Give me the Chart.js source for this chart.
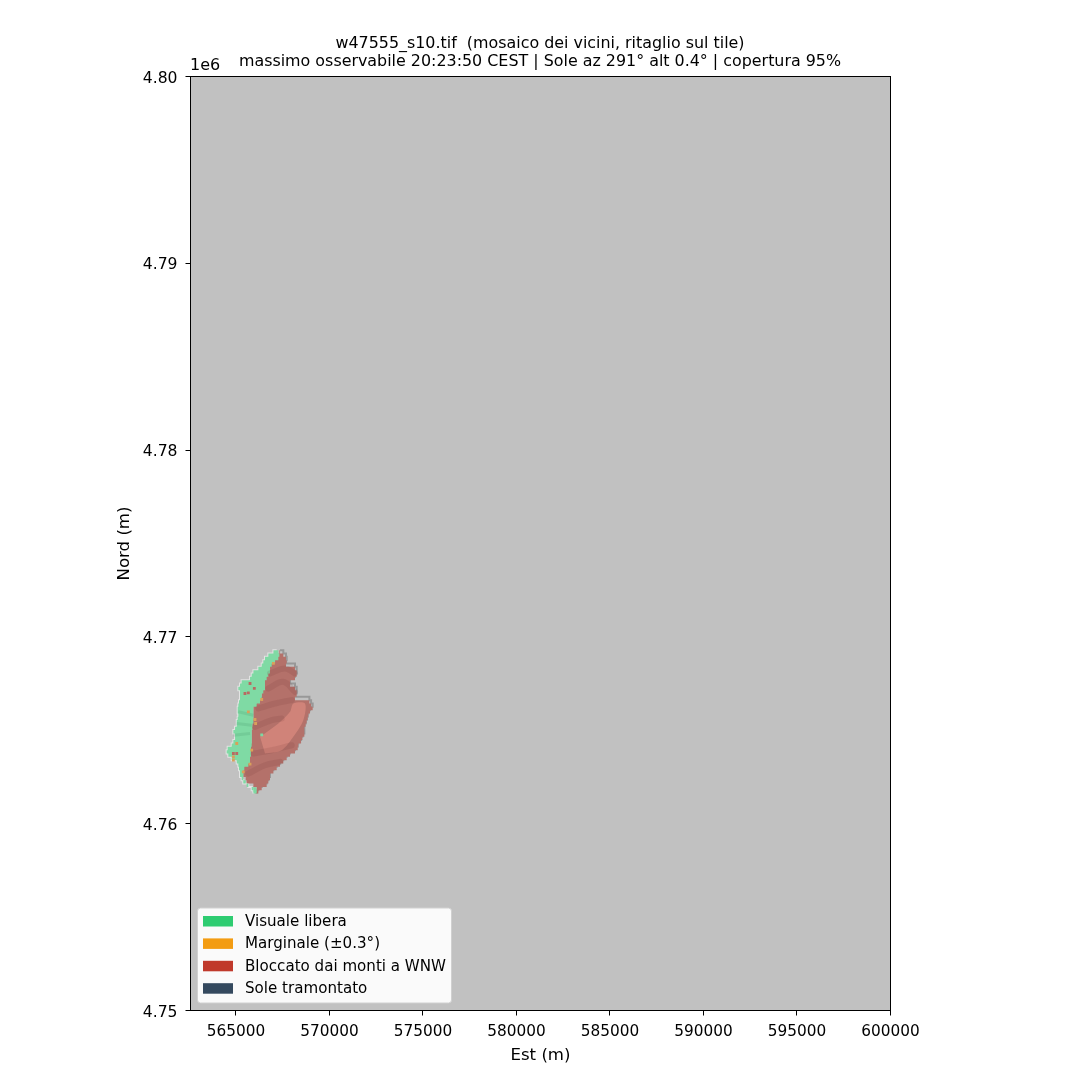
<!DOCTYPE html>
<html>
<head>
<meta charset="utf-8">
<title>w47555_s10</title>
<script src="https://cdn.jsdelivr.net/npm/chart.js@4/dist/chart.umd.min.js"></script>
<style>
  body { margin: 0; background: #fff; }
  canvas { display: block; }
</style>
</head>
<body>
<canvas id="chart" width="1080" height="1080"></canvas>
<script>
const titleLines = ["w47555_s10.tif  (mosaico dei vicini, ritaglio sul tile)",
  "massimo osservabile 20:23:50 CEST | Sole az 291° alt 0.4° | copertura 95%"];
const estTicks = [565000, 570000, 575000, 580000, 585000, 590000, 595000, 600000];
const nordTicks = [4750000, 4760000, 4770000, 4780000, 4790000, 4800000];
const legendLabels = ["Visuale libera", "Marginale (±0.3°)", "Bloccato dai monti a WNW", "Sole tramontato"];
const legendColors = ["#2ecc71", "#f39c12", "#c0392b", "#34495e"];

// one entry per raster row, north to south
const rowNord = [4769290, 4769115, 4768935, 4768755, 4768580, 4768400, 4768220, 4768045, 4767865, 4767685, 4767510,
  4767330, 4767150, 4766970, 4766795, 4766615, 4766435, 4766260, 4766080, 4765900, 4765720, 4765545, 4765365, 4765185,
  4765010, 4764830, 4764650, 4764475, 4764295, 4764115, 4763935, 4763755, 4763580, 4763400, 4763220, 4763045, 4762865,
  4762685, 4762505, 4762330, 4762150, 4761970, 4761790, 4761615];
const westEdge = [567175, 567000, 566730, 566550, 566460, 566375, 566195, 565930, 565840, 565750, 565300,
  565215, 565125, 565215, 565215, 565215, 565160, 565125, 565090, 565090, 565125, 565090, 565040, 565040,
  564950, 564860, 564950, 564950, 564860, 564770, 564555, 564500, 564590, 564770, 565040, 565125, 565160,
  565215, 565215, 565300, 565390, 565660, 565840, 565930];
const splitEdge = [567265, 567320, 567265, 567090, 566910, 566820, 566820, 566730, 566640, 566550, 566550,
  566550, 566460, 566375, 566375, 566285, 566105, 565930, 565930, 565930, 565930, 565930, 565875, 565875,
  565840, 565840, 565840, 565840, 565840, 565800, 565800, 565800, 565750, 565750, 565660, 565445, 565390,
  565390, 565390, 565520, 565570, 565930, 566105, 566050];
const eastEdge = [567355, 567530, 567675, 567710, 567675, 568155, 568245, 568245, 568155, 567890, 567890,
  568155, 568245, 568245, 568155, 568925, 569015, 569100, 568960, 568870, 568835, 568780, 568725, 568655,
  568655, 568655, 568550, 568480, 568335, 568300, 568155, 567890, 567710, 567530, 567355, 567175, 567000,
  566820, 566820, 566730, 566640, 566375, 566195, 566105];

// hillshade seen through the overlay
const lightEst = [566285, 567265, 567890, 568065, 568690, 568600, 568065, 567445, 566550];
const lightNord = [4764650, 4765365, 4765990, 4766435, 4766435, 4765540, 4764650, 4763935, 4763755];
const ridgesEst = [[566820, 567620, 568155], [566730, 567530, 568155], [566195, 567090, 567980],
  [566015, 566910, 567445], [565930, 566910, 567980], [565660, 566550, 567355]];
const ridgesNord = [[4768043, 4768310, 4768043], [4767240, 4767600, 4767060], [4766168, 4766435, 4766615],
  [4765185, 4765540, 4765630], [4763755, 4763935, 4764200], [4762685, 4763130, 4763310]];
const greenBandsEst = [[564860, 565750], [565125, 565930], [565040, 565840]];
const greenBandsNord = [[4764740, 4764830], [4765990, 4765810], [4765365, 4765275]];

// isolated cells
const marginalEst = [567000, 566375, 566015, 566050, 565840, 565750, 564860, 564860, 565390, 565660, 565040];
const marginalNord = [4768579, 4766650, 4765578, 4765365, 4763935, 4763185, 4763578, 4763400, 4762775, 4765990, 4764292];
const blockedEst = [565750, 565980, 565660, 565480, 564860, 565040];
const blockedNord = [4767507, 4767240, 4767007, 4766971, 4763757, 4763757];
const freeEst = [566375, 566015, 566015];
const freeNord = [4764757, 4761880, 4761790];

function pts(xs, ys) {
  return xs.map((x, i) => ({ x: x, y: ys[i] }));
}

const greenShape = pts(westEdge.concat(splitEdge.slice().reverse()), rowNord.concat(rowNord.slice().reverse()));
const redShape = pts(splitEdge.concat(eastEdge.slice().reverse()), rowNord.concat(rowNord.slice().reverse()));

const paintOrder = [];
paintOrder.push({ data: pts(eastEdge, rowNord), stepped: true, borderColor: "rgba(90,90,90,0.4)", borderWidth: 2 });
paintOrder.push({ data: pts(westEdge, rowNord), stepped: true, borderColor: "rgba(255,255,255,0.55)", borderWidth: 2 });
paintOrder.push({ data: redShape, stepped: true, fill: "shape", backgroundColor: "#b4716a", borderColor: "#b4716a", borderWidth: 0 });
paintOrder.push({ data: greenShape, stepped: true, fill: "shape", backgroundColor: "#7fdaa4", borderColor: "#7fdaa4", borderWidth: 0 });
paintOrder.push({ data: pts(lightEst, lightNord), tension: 0.3, fill: "shape", backgroundColor: "rgba(235,150,135,0.5)", borderWidth: 0 });
ridgesEst.forEach((xs, i) => {
  paintOrder.push({ data: pts(xs, ridgesNord[i]), tension: 0.4, borderColor: "rgba(110,45,45,0.13)", borderWidth: 6, borderCapStyle: "round" });
});
greenBandsEst.forEach((xs, i) => {
  paintOrder.push({ data: pts(xs, greenBandsNord[i]), borderColor: "rgba(70,150,105,0.2)", borderWidth: 3 });
});
[[marginalEst, marginalNord, "#d9a05a"], [blockedEst, blockedNord, "#b86a62"], [freeEst, freeNord, "#7dd8a2"]].forEach(c => {
  paintOrder.push({ data: pts(c[0], c[1]), showLine: false, pointRadius: 2, pointStyle: "rect", pointBackgroundColor: c[2], pointBorderWidth: 0 });
});

const frame = {
  id: "frame",
  beforeDatasetsDraw(chart) {
    const a = chart.chartArea, ctx = chart.ctx;
    ctx.save();
    ctx.fillStyle = "#c1c1c1";
    ctx.fillRect(a.left, a.top, a.right - a.left, a.bottom - a.top);
    ctx.restore();
  },
  afterDraw(chart) {
    const a = chart.chartArea, ctx = chart.ctx;
    ctx.save();
    ctx.strokeStyle = "#000";
    ctx.lineWidth = 1;
    ctx.strokeRect(a.left, a.top, a.right - a.left, a.bottom - a.top);

    // titles and the axis offset
    ctx.fillStyle = "#000";
    ctx.textBaseline = "middle";
    ctx.textAlign = "center";
    ctx.font = "15.9px 'DejaVu Sans'";
    ctx.fillText(titleLines[0], 540, 44);
    ctx.fillText(titleLines[1], 540, 62);
    ctx.textAlign = "left";
    ctx.font = "16px 'DejaVu Sans'";
    ctx.fillText("1e6", 190, 66);

    // legend
    const bx = 197.5, by = 908, bw = 254, bh = 95;
    ctx.beginPath();
    ctx.roundRect(bx, by, bw, bh, 3);
    ctx.fillStyle = "rgba(255,255,255,0.92)";
    ctx.fill();
    ctx.strokeStyle = "#d0d0d0";
    ctx.stroke();
    ctx.font = "15.1px 'DejaVu Sans'";
    legendLabels.forEach((label, i) => {
      const y = 921 + i * 22.4;
      ctx.fillStyle = legendColors[i];
      ctx.fillRect(203, y - 5, 30, 10.5);
      ctx.fillStyle = "#000";
      ctx.fillText(label, 245, y + 1);
    });
    ctx.restore();
  }
};

new Chart(document.getElementById("chart"), {
  type: "scatter",
  data: { datasets: paintOrder.map((d, i) => Object.assign({ showLine: true, pointRadius: 0, order: paintOrder.length - i }, d)) },
  plugins: [frame],
  options: {
    responsive: false,
    animation: false,
    devicePixelRatio: 1,
    layout: { padding: { left: 115, right: 189.5, top: 76.5, bottom: 14.5 } },
    plugins: { legend: { display: false }, title: { display: false }, tooltip: { enabled: false } },
    scales: {
      x: {
        type: "linear",
        min: 562567,
        max: 600000,
        afterFit(scale) { scale.height = 55; },
        afterBuildTicks(scale) { scale.ticks = estTicks.map(v => ({ value: v })); },
        grid: { drawOnChartArea: false, tickLength: 5, tickColor: "#000" },
        border: { display: false },
        ticks: { color: "#000", maxRotation: 0, autoSkip: false, padding: 7, font: { family: "DejaVu Sans", size: 15.3 }, callback: v => String(v) },
        title: { display: true, text: "Est (m)", color: "#000", font: { family: "DejaVu Sans", size: 16.6 }, padding: 0 }
      },
      y: {
        type: "linear",
        min: 4750000,
        max: 4800000,
        afterFit(scale) { scale.width = 75.5; },
        afterBuildTicks(scale) { scale.ticks = nordTicks.map(v => ({ value: v })); },
        grid: { drawOnChartArea: false, tickLength: 5, tickColor: "#000" },
        border: { display: false },
        ticks: { color: "#000", autoSkip: false, padding: 8, labelOffset: 2, font: { family: "DejaVu Sans", size: 15.6 }, callback: v => (v / 1e6).toFixed(2) },
        title: { display: true, text: "Nord (m)", color: "#000", font: { family: "DejaVu Sans", size: 16.6 }, padding: 0 }
      }
    }
  }
});
</script>
</body>
</html>
